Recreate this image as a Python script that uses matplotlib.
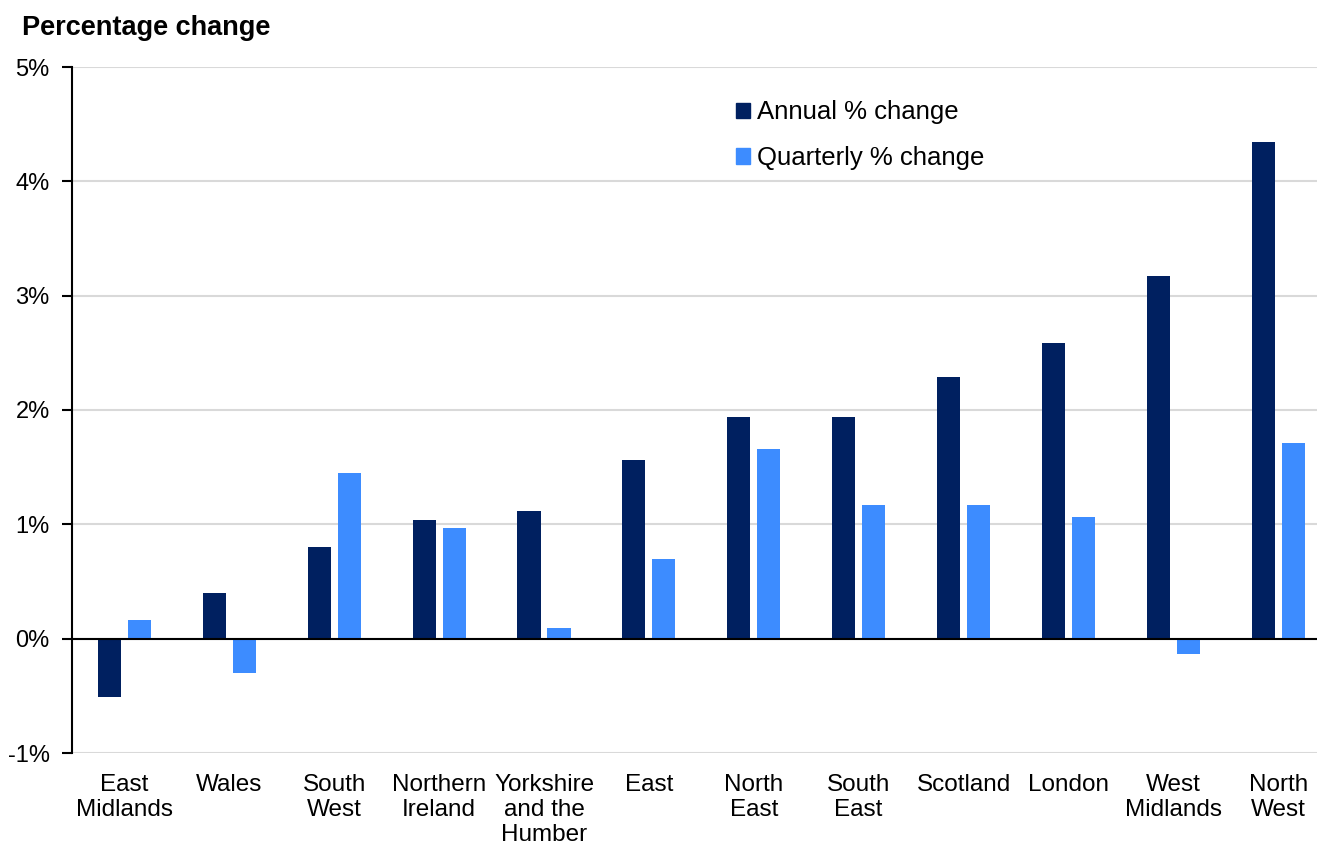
import numpy as np
import matplotlib
matplotlib.use("Agg")
import matplotlib.pyplot as plt
from matplotlib.patches import Patch

plt.rcParams['font.family'] = ['Liberation Sans', 'DejaVu Sans']

regions = ["East\nMidlands", "Wales", "South\nWest", "Northern\nIreland",
           "Yorkshire\nand the\nHumber", "East", "North\nEast", "South\nEast",
           "Scotland", "London", "West\nMidlands", "North\nWest"]
annual = [-0.51, 0.40, 0.80, 1.04, 1.12, 1.56, 1.94, 1.94, 2.29, 2.59, 3.17, 4.34]
quarterly = [0.16, -0.30, 1.45, 0.97, 0.09, 0.70, 1.66, 1.17, 1.17, 1.06, -0.13, 1.71]

dark = '#002060'
light = '#3d8cff'

fig = plt.figure(figsize=(13.17, 8.44), dpi=100)
ax = fig.add_axes([72/1317, 91/844, 1 - 72/1317, (753-67)/844])

x = np.arange(len(regions))
w = 0.22
ax.bar(x - 0.143, annual, w, color=dark, zorder=3)
ax.bar(x + 0.143, quarterly, w, color=light, zorder=3)

ax.set_xlim(-0.5, 11.37)
ax.set_ylim(-1, 5)
ax.set_yticks(range(-1, 6))
ax.set_yticklabels(['%d%%' % v for v in range(-1, 6)])
ax.yaxis.grid(True, color='#d9d9d9', linewidth=1.5, zorder=0)
ax.axhline(0, color='black', linewidth=1.5, zorder=4)

ax.set_xticks(x)
ax.set_xticklabels(regions, linespacing=1.17)
ax.tick_params(axis='x', length=0, pad=15, labelsize=17.5)
ax.tick_params(axis='y', length=7, width=1.5, direction='out', labelsize=17, pad=9)

for s in ['top', 'right', 'bottom']:
    ax.spines[s].set_visible(False)
ax.spines['left'].set_linewidth(1.5)

fig.text(22/1317, 1 - 28/844, 'Percentage change', fontsize=19.5,
         fontweight='bold', va='center', ha='left')

handles = [Patch(color=dark, label='Annual % change'),
           Patch(color=light, label='Quarterly % change')]
ax.legend(handles=handles, loc='upper left', bbox_to_anchor=(0.515, 0.985),
          frameon=False, fontsize=18.5, handlelength=0.55, handleheight=0.55,
          handletextpad=0.25, labelspacing=0.85)

fig.savefig('out.png', dpi=100)
